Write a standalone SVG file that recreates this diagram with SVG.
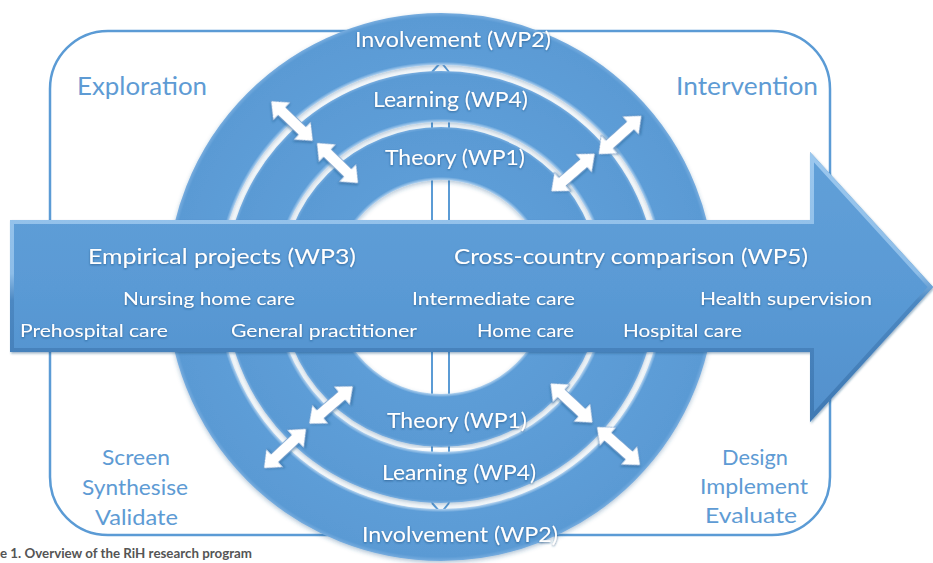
<svg xmlns="http://www.w3.org/2000/svg" width="933" height="563" viewBox="0 0 933 563">
  <defs>
    <style>
      .frame { fill: none; stroke: #5b9bd5; stroke-width: 2.5; }
      .axis { fill: none; stroke: #5b9bd5; stroke-width: 2; }
      .phase { font-family: Lato, "Open Sans", sans-serif; fill: #5e9bd4; }
      .ring-label { font-family: Lato, "Open Sans", sans-serif; font-size: 21px; fill: #ffffff; filter: url(#textShadow); }
      .head-label { font-family: Lato, "Open Sans", sans-serif; font-size: 21px; fill: #ffffff; filter: url(#textShadow); }
      .site-label { font-family: Lato, "Open Sans", sans-serif; font-size: 17px; fill: #ffffff; filter: url(#textShadow); }
      .swap { fill: #ffffff; stroke: #4f8ac4; stroke-width: 0.6; filter: url(#softShadow); }
      .caption { font-family: Lato, "Open Sans", sans-serif; font-size: 12.5px; font-weight: bold; fill: #555555; }
    </style>
    <filter id="textShadow" x="-10%" y="-30%" width="120%" height="160%">
      <feDropShadow dx="0" dy="1" stdDeviation="1" flood-color="#1f4f7f" flood-opacity="0.7"/>
    </filter>
    <filter id="softShadow" x="-30%" y="-30%" width="160%" height="160%">
      <feDropShadow dx="1" dy="1.5" stdDeviation="1.2" flood-color="#1f4f7f" flood-opacity="0.45"/>
    </filter>
    <filter id="ringShadow" x="-10%" y="-10%" width="120%" height="120%">
      <feDropShadow dx="0" dy="2" stdDeviation="2" flood-color="#2f5f8f" flood-opacity="0.35"/>
    </filter>
    <!-- bevelled ring shading, radii are fractions of 274 -->
    <radialGradient id="gOuter" gradientUnits="userSpaceOnUse" cx="441" cy="287" r="274">
      <stop offset="0.810" stop-color="#b3d3f0"/>
      <stop offset="0.822" stop-color="#5d9dd7"/>
      <stop offset="0.985" stop-color="#5a9ad4"/>
      <stop offset="1" stop-color="#78addf"/>
    </radialGradient>
    <radialGradient id="gMiddle" gradientUnits="userSpaceOnUse" cx="441" cy="287" r="274">
      <stop offset="0" stop-color="#5b9bd5"/>
      <stop offset="0.602" stop-color="#b3d3f0"/>
      <stop offset="0.614" stop-color="#5d9dd7"/>
      <stop offset="0.778" stop-color="#5a9ad4"/>
      <stop offset="0.788" stop-color="#78addf"/>
      <stop offset="1" stop-color="#78addf"/>
    </radialGradient>
    <radialGradient id="gInner" gradientUnits="userSpaceOnUse" cx="441" cy="287" r="274">
      <stop offset="0" stop-color="#5b9bd5"/>
      <stop offset="0.390" stop-color="#b3d3f0"/>
      <stop offset="0.402" stop-color="#5d9dd7"/>
      <stop offset="0.574" stop-color="#5a9ad4"/>
      <stop offset="0.584" stop-color="#78addf"/>
      <stop offset="1" stop-color="#78addf"/>
    </radialGradient>
    <linearGradient id="gArrowFill" gradientUnits="userSpaceOnUse" x1="0" y1="152" x2="0" y2="422">
      <stop offset="0" stop-color="#61a0d8"/>
      <stop offset="0.5" stop-color="#5a9ad5"/>
      <stop offset="1" stop-color="#5290cc"/>
    </linearGradient>
    <linearGradient id="gBevel" gradientUnits="userSpaceOnUse" x1="0" y1="152" x2="0" y2="422">
      <stop offset="0" stop-color="#9cc8ee"/>
      <stop offset="0.45" stop-color="#8dbde8"/>
      <stop offset="0.55" stop-color="#4c88c2"/>
      <stop offset="1" stop-color="#3f79b3"/>
    </linearGradient>
    <clipPath id="arrowClip">
      <polygon points="10,220 810,220 810,152 933,287 810,422 810,352 10,352"/>
    </clipPath>
    <path id="swapArrow" d="M-29,0 L-14,-12.5 L-14,-5.5 L14,-5.5 L14,-12.5 L29,0 L14,12.5 L14,5.5 L-14,5.5 L-14,12.5 Z"/>
  </defs>

  <rect width="933" height="563" fill="#ffffff"/>

  <!-- outer frame -->
  <g id="frame">
    <rect class="frame" x="50" y="31" width="780" height="504" rx="58" ry="58"/>
  </g>

  <!-- vertical double arrow behind the rings -->
  <g id="axis">
    <line class="axis" x1="432" y1="72" x2="432" y2="503"/>
    <line class="axis" x1="449" y1="72" x2="449" y2="503"/>
    <polyline class="axis" points="432,72 441,62 449,72"/>
    <polyline class="axis" points="432,503 441,513 449,503"/>
  </g>

  <!-- work package rings -->
  <g id="ring-involvement" filter="url(#ringShadow)">
    <circle cx="441" cy="287" r="248" fill="none" stroke="url(#gOuter)" stroke-width="52"/>
  </g>
  <g id="ring-learning" filter="url(#ringShadow)">
    <circle cx="441" cy="287" r="190.5" fill="none" stroke="url(#gMiddle)" stroke-width="51"/>
  </g>
  <g id="ring-theory" filter="url(#ringShadow)">
    <circle cx="441" cy="287" r="133.5" fill="none" stroke="url(#gInner)" stroke-width="53"/>
  </g>

  <!-- two-way arrows between rings -->
  <g id="connectors">
    <use href="#swapArrow" class="swap" transform="translate(292,121) rotate(43.6)"/>
    <use href="#swapArrow" class="swap" transform="translate(337.5,163) rotate(44.3)"/>
    <use href="#swapArrow" class="swap" transform="translate(620,135) rotate(-42)"/>
    <use href="#swapArrow" class="swap" transform="translate(573,172.5) rotate(-41)"/>
    <use href="#swapArrow" class="swap" transform="translate(285,448.5) rotate(-43)"/>
    <use href="#swapArrow" class="swap" transform="translate(331,405) rotate(-40.6)"/>
    <use href="#swapArrow" class="swap" transform="translate(571.5,403) rotate(43)"/>
    <use href="#swapArrow" class="swap" transform="translate(618.5,446) rotate(41.5)"/>
  </g>

  <!-- ring labels -->
  <g id="labels-rings">
    <text class="ring-label" x="355" y="47" textLength="196" lengthAdjust="spacingAndGlyphs">Involvement (WP2)</text>
    <text class="ring-label" x="373" y="107" textLength="155" lengthAdjust="spacingAndGlyphs">Learning (WP4)</text>
    <text class="ring-label" x="385" y="165" textLength="140" lengthAdjust="spacingAndGlyphs">Theory (WP1)</text>
    <text class="ring-label" x="387" y="428" textLength="140" lengthAdjust="spacingAndGlyphs">Theory (WP1)</text>
    <text class="ring-label" x="382" y="480" textLength="154" lengthAdjust="spacingAndGlyphs">Learning (WP4)</text>
    <text class="ring-label" x="362" y="542" textLength="196" lengthAdjust="spacingAndGlyphs">Involvement (WP2)</text>
  </g>

  <!-- big horizontal arrow -->
  <g id="empirical-arrow">
    <polygon points="10,220 810,220 810,152 933,287 810,422 810,352 10,352" fill="url(#gArrowFill)" filter="url(#softShadow)"/>
    <polygon points="10,220 810,220 810,152 933,287 810,422 810,352 10,352" fill="none" stroke="url(#gBevel)" stroke-width="8" clip-path="url(#arrowClip)"/>
    <text class="head-label" x="88" y="264" textLength="268" lengthAdjust="spacingAndGlyphs">Empirical projects (WP3)</text>
    <text class="head-label" x="454" y="264" textLength="354" lengthAdjust="spacingAndGlyphs">Cross-country comparison (WP5)</text>
    <text class="site-label" x="123" y="305" textLength="172" lengthAdjust="spacingAndGlyphs">Nursing home care</text>
    <text class="site-label" x="412" y="305" textLength="163" lengthAdjust="spacingAndGlyphs">Intermediate care</text>
    <text class="site-label" x="700" y="305" textLength="172" lengthAdjust="spacingAndGlyphs">Health supervision</text>
    <text class="site-label" x="20" y="337" textLength="148" lengthAdjust="spacingAndGlyphs">Prehospital care</text>
    <text class="site-label" x="231" y="337" textLength="186" lengthAdjust="spacingAndGlyphs">General practitioner</text>
    <text class="site-label" x="477" y="337" textLength="97" lengthAdjust="spacingAndGlyphs">Home care</text>
    <text class="site-label" x="623" y="337" textLength="119" lengthAdjust="spacingAndGlyphs">Hospital care</text>
  </g>

  <!-- phase labels in the corners -->
  <g id="phase-exploration">
    <text class="phase" x="77" y="95" font-size="25" textLength="130" lengthAdjust="spacingAndGlyphs">Exploration</text>
  </g>
  <g id="phase-intervention">
    <text class="phase" x="676" y="95" font-size="25" textLength="142" lengthAdjust="spacingAndGlyphs">Intervention</text>
  </g>
  <g id="phase-review">
    <text class="phase" x="102" y="465" font-size="22" textLength="68" lengthAdjust="spacingAndGlyphs">Screen</text>
    <text class="phase" x="82" y="495" font-size="22" textLength="106" lengthAdjust="spacingAndGlyphs">Synthesise</text>
    <text class="phase" x="95" y="525" font-size="22" textLength="83" lengthAdjust="spacingAndGlyphs">Validate</text>
  </g>
  <g id="phase-trial">
    <text class="phase" x="722" y="465" font-size="22" textLength="66" lengthAdjust="spacingAndGlyphs">Design</text>
    <text class="phase" x="700" y="494" font-size="22" textLength="108" lengthAdjust="spacingAndGlyphs">Implement</text>
    <text class="phase" x="705" y="523" font-size="22" textLength="92" lengthAdjust="spacingAndGlyphs">Evaluate</text>
  </g>

  <text class="caption" x="0" y="558" textLength="252" lengthAdjust="spacingAndGlyphs">e 1. Overview of the RiH research program</text>
</svg>
